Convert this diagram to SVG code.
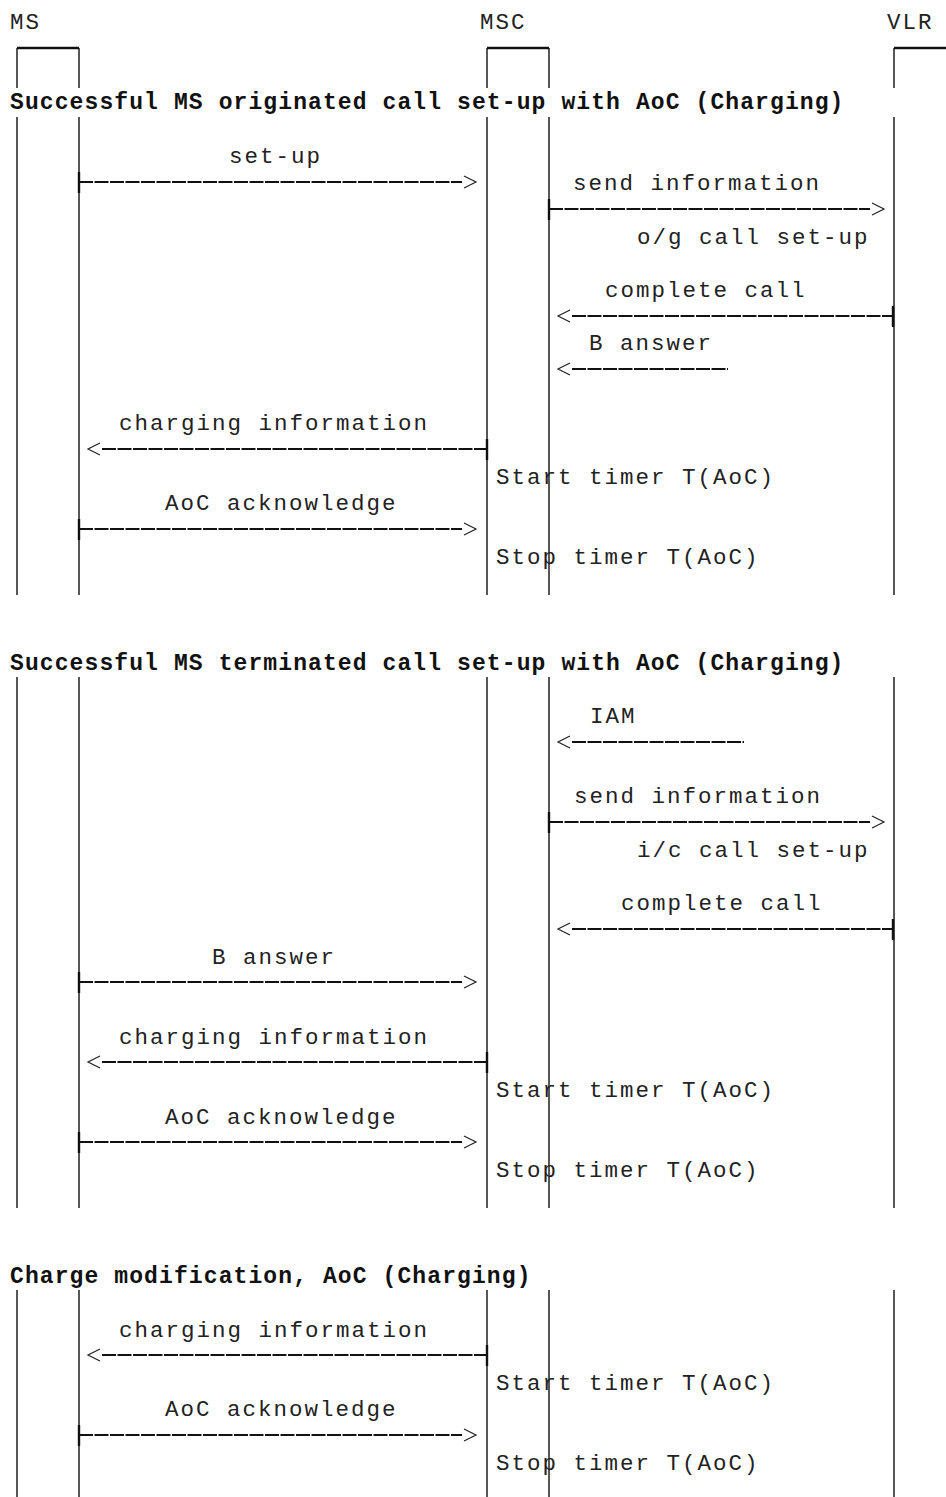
<svg xmlns="http://www.w3.org/2000/svg" width="946" height="1497" viewBox="0 0 946 1497">
<style>
.t{font-family:"Liberation Mono","DejaVu Sans Mono",monospace;font-size:22.5px;letter-spacing:2px;fill:#222}
.h{font-family:"Liberation Mono","DejaVu Sans Mono",monospace;font-size:23px;font-weight:bold;letter-spacing:1.1px;fill:#111}
.life{stroke:#111;stroke-width:1.4;fill:none}
.top{stroke:#111;stroke-width:2.4;fill:none}
.msg{stroke:#111;stroke-width:2.2;stroke-dasharray:14 1.5;fill:none}
.head{stroke:#222;stroke-width:1.2;fill:none}
.tick{stroke:#111;stroke-width:2.4}
</style>
<rect width="946" height="1497" fill="#fff"/>
<g id="node-MS">
<text class="t" x="10" y="29">MS</text>
<path class="top" d="M17,48 H79"/>
<path class="life" d="M17,48 V88 M17,117 V595 M79,48 V88 M79,117 V595 M17,677 V1208 M79,677 V1208 M17,1290 V1497 M79,1290 V1497"/>
</g>
<g id="node-MSC">
<text class="t" x="480" y="29">MSC</text>
<path class="top" d="M487,48 H549"/>
<path class="life" d="M487,48 V88 M487,117 V595 M549,48 V88 M549,117 V595 M487,677 V1208 M549,677 V1208 M487,1290 V1497 M549,1290 V1497"/>
</g>
<g id="node-VLR">
<text class="t" x="887" y="29">VLR</text>
<path class="top" d="M894,48 H946"/>
<path class="life" d="M894,48 V88 M894,117 V595 M894,677 V1208 M894,1290 V1497"/>
</g>
<g id="titles">
<text class="h" x="10" y="109">Successful MS originated call set-up with AoC (Charging)</text>
<text class="h" x="10" y="670">Successful MS terminated call set-up with AoC (Charging)</text>
<text class="h" x="10" y="1283">Charge modification, AoC (Charging)</text>
</g>
<g id="labels">
<text class="t" x="229" y="163">set-up</text>
<text class="t" x="573" y="190">send information</text>
<text class="t" x="637" y="244">o/g call set-up</text>
<text class="t" x="605" y="297">complete call</text>
<text class="t" x="589" y="350">B answer</text>
<text class="t" x="119" y="430">charging information</text>
<text class="t" x="496" y="484">Start timer T(AoC)</text>
<text class="t" x="165" y="510">AoC acknowledge</text>
<text class="t" x="496" y="564">Stop timer T(AoC)</text>

<text class="t" x="590" y="723">IAM</text>
<text class="t" x="574" y="803">send information</text>
<text class="t" x="637" y="857">i/c call set-up</text>
<text class="t" x="621" y="910">complete call</text>
<text class="t" x="212" y="964">B answer</text>
<text class="t" x="119" y="1044">charging information</text>
<text class="t" x="496" y="1097">Start timer T(AoC)</text>
<text class="t" x="165" y="1124">AoC acknowledge</text>
<text class="t" x="496" y="1177">Stop timer T(AoC)</text>

<text class="t" x="119" y="1337">charging information</text>
<text class="t" x="496" y="1390">Start timer T(AoC)</text>
<text class="t" x="165" y="1416">AoC acknowledge</text>
<text class="t" x="496" y="1470">Stop timer T(AoC)</text>
</g>
<g id="connectors">
<!-- section 1 -->
<path class="tick" d="M79,172 V193"/><path class="msg" d="M79,182 H462"/><path class="head" d="M464,176 L476,182 L464,188"/>
<path class="tick" d="M549,199 V220"/><path class="msg" d="M549,209 H870"/><path class="head" d="M872,203 L884,209 L872,215"/>
<path class="tick" d="M893,306 V327"/><path class="msg" d="M572,316 H893"/><path class="head" d="M570,310 L558,316 L570,322"/>
<path class="msg" d="M572,369 H728"/><path class="head" d="M570,363 L558,369 L570,375"/>
<path class="tick" d="M487,439 V460"/><path class="msg" d="M102,449 H487"/><path class="head" d="M100,443 L88,449 L100,455"/>
<path class="tick" d="M79,519 V540"/><path class="msg" d="M79,529 H462"/><path class="head" d="M464,523 L476,529 L464,535"/>
<!-- section 2 -->
<path class="msg" d="M572,742 H744"/><path class="head" d="M570,736 L558,742 L570,748"/>
<path class="tick" d="M549,812 V833"/><path class="msg" d="M549,822 H870"/><path class="head" d="M872,816 L884,822 L872,828"/>
<path class="tick" d="M893,919 V940"/><path class="msg" d="M572,929 H893"/><path class="head" d="M570,923 L558,929 L570,935"/>
<path class="tick" d="M79,972 V993"/><path class="msg" d="M79,982 H462"/><path class="head" d="M464,976 L476,982 L464,988"/>
<path class="tick" d="M487,1052 V1073"/><path class="msg" d="M102,1062 H487"/><path class="head" d="M100,1056 L88,1062 L100,1068"/>
<path class="tick" d="M79,1132 V1153"/><path class="msg" d="M79,1142 H462"/><path class="head" d="M464,1136 L476,1142 L464,1148"/>
<!-- section 3 -->
<path class="tick" d="M487,1345 V1366"/><path class="msg" d="M102,1355 H487"/><path class="head" d="M100,1349 L88,1355 L100,1361"/>
<path class="tick" d="M79,1425 V1446"/><path class="msg" d="M79,1435 H462"/><path class="head" d="M464,1429 L476,1435 L464,1441"/>
</g>
</svg>
